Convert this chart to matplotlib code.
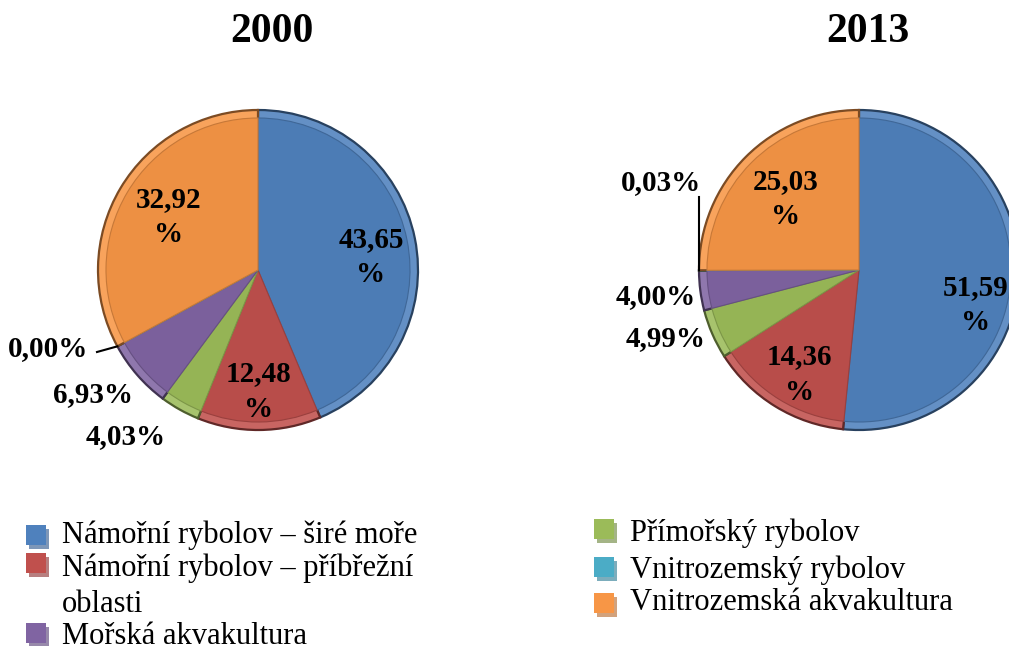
import numpy as np
import matplotlib
matplotlib.use("Agg")
import matplotlib.pyplot as plt
from matplotlib.patches import Rectangle
from matplotlib.colors import to_rgb

# data
years = ["2000", "2013"]
categories = ["Námořní rybolov – širé moře", "Námořní rybolov – příbřežní oblasti",
              "Přímořský rybolov", "Mořská akvakultura",
              "Vnitrozemský rybolov", "Vnitrozemská akvakultura"]
share_2000 = [43.65, 12.48, 4.03, 6.93, 0.00, 32.92]
share_2013 = [51.59, 14.36, 4.99, 4.00, 0.03, 25.03]
colors = ["#4F81BD", "#C0504D", "#9BBB59", "#8064A2", "#4BACC6", "#F79646"]

# legend layout (column-wise, as in the original)
legend_col1 = ["Námořní rybolov – širé moře", "Námořní rybolov – příbřežní\noblasti", "Mořská akvakultura"]
legend_col1_colors = ["#4F81BD", "#C0504D", "#8064A2"]
legend_col2 = ["Přímořský rybolov", "Vnitrozemský rybolov", "Vnitrozemská akvakultura"]
legend_col2_colors = ["#9BBB59", "#4BACC6", "#F79646"]

W, H = 1009, 646
fig = plt.figure(figsize=(W / 100, H / 100), dpi=100)
ax = fig.add_axes([0, 0, 1, 1])

serif = "Liberation Serif"


def shade(c, f):
    r, g, b = to_rgb(c)
    if f < 1:
        return (r * f, g * f, b * f)
    return (r + (1 - r) * (f - 1), g + (1 - g) * (f - 1), b + (1 - b) * (f - 1))


def fmt(v):
    return f"{v:.2f}".replace(".", ",")


def draw_pie(values, cx, cy, R, dist, shift, leader):
    # outer rim slightly lighter, inner part in the base colour -> bevel look
    w1, _ = ax.pie(values, colors=[shade(c, 1.12) for c in colors], startangle=90,
                   counterclock=False, center=(cx, cy), radius=R, normalize=True,
                   wedgeprops=dict(linewidth=1.6))
    for w, c in zip(w1, colors):
        w.set_edgecolor(shade(c, 0.5))
    w2, _ = ax.pie(values, colors=[shade(c, 0.96) for c in colors], startangle=90,
                   counterclock=False, center=(cx, cy), radius=R * 0.95, normalize=True,
                   wedgeprops=dict(linewidth=0.8))
    for w, c in zip(w2, colors):
        w.set_edgecolor(shade(c, 0.8))

    total = sum(values)
    start = 90.0
    for i, v in enumerate(values):
        sweep = 360.0 * v / total
        mid = start - sweep / 2
        ang = np.radians(mid + shift[i])
        tx = cx + R * dist[i] * np.cos(ang)
        ty = cy + R * dist[i] * np.sin(ang)
        if dist[i] < 1:
            txt = fmt(v) + "\n%"
        else:
            txt = fmt(v) + "%"
        ax.text(tx, ty, txt, ha="center", va="center", fontsize=21,
                fontweight="bold", family=serif, linespacing=1.4)
        if i == leader[0]:
            a = np.radians(mid)
            ex, ey = cx + R * np.cos(a), cy + R * np.sin(a)
            lx, ly = leader[1]
            ax.plot([lx, ex], [ly, ey], color="black", lw=1.5)
        start -= sweep


draw_pie(share_2000, 258, H - 270, 160,
         dist=[0.71, 0.76, 1.33, 1.29, 1.40, 0.65],
         shift=[-5, 0, -9, -4, -8, 0],
         leader=(4, (97, H - 352)))
draw_pie(share_2013, 859, H - 270, 160,
         dist=[0.76, 0.75, 1.28, 1.28, 1.35, 0.64],
         shift=[-14, 2, -4, 0, -24, 1],
         leader=(4, (699, H - 197)))

ax.set_xlim(0, W)
ax.set_ylim(0, H)
ax.set_aspect("equal")
ax.axis("off")

# titles
ax.text(272, H - 32, years[0], ha="center", va="center", fontsize=30,
        fontweight="bold", family=serif)
ax.text(868, H - 32, years[1], ha="center", va="center", fontsize=30,
        fontweight="bold", family=serif)


# legend drawn by hand
def legend_entry(x, ytop, c, label, ytext):
    shadow = tuple(0.5 * np.array(to_rgb(c)) + 0.5 * np.array([0.68, 0.68, 0.7]))
    ax.add_patch(Rectangle((x + 3, H - ytop - 24), 20, 20, color=shadow, zorder=1, lw=0))
    ax.add_patch(Rectangle((x, H - ytop - 20), 20, 20, color=c, zorder=2, lw=0))
    ax.text(x + 36, H - ytext, label, ha="left", va="center", fontsize=22,
            family=serif, linespacing=1.3)


legend_entry(26, 525, legend_col1_colors[0], legend_col1[0], 535)
legend_entry(26, 553, legend_col1_colors[1], legend_col1[1], 586)
legend_entry(26, 623, legend_col1_colors[2], legend_col1[2], 637)
legend_entry(594, 519, legend_col2_colors[0], legend_col2[0], 533)
legend_entry(594, 557, legend_col2_colors[1], legend_col2[1], 570)
legend_entry(594, 593, legend_col2_colors[2], legend_col2[2], 603)

fig.savefig("out.png", dpi=100)
